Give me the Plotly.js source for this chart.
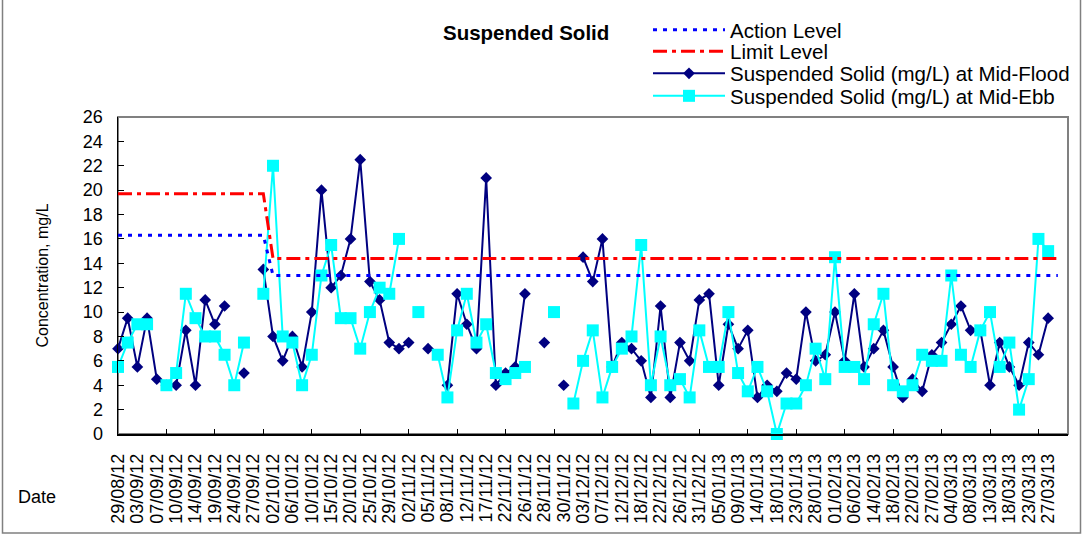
<!DOCTYPE html>
<html>
<head>
<meta charset="utf-8">
<script src="https://cdn.plot.ly/plotly-3.0.1.min.js"></script>
<style>html,body{margin:0;padding:0;background:#fff;}#chart{width:1083px;height:535px;}</style>
</head>
<body>
<div id="chart"></div>
<script>
// Tick labels: one every second sampling position (positions 0,2,...,96)
const dateLabels = ["29/08/12","03/09/12","07/09/12","10/09/12","14/09/12","19/09/12","24/09/12","27/09/12",
"02/10/12","06/10/12","10/10/12","15/10/12","20/10/12","25/10/12","29/10/12","02/11/12","05/11/12","08/11/12",
"12/11/12","17/11/12","22/11/12","26/11/12","28/11/12","30/11/12","03/12/12","07/12/12","12/12/12","18/12/12",
"22/12/12","26/12/12","31/12/12","05/01/13","09/01/13","14/01/13","18/01/13","23/01/13","28/01/13","01/02/13",
"06/02/13","14/02/13","18/02/13","22/02/13","27/02/13","04/03/13","08/03/13","13/03/13","18/03/13","23/03/13","27/03/13"];
const labelPositions = [0,2,4,6,8,10,12,14,16,18,20,22,24,26,28,30,32,34,36,38,40,42,44,46,48,
50,52,54,56,58,60,62,64,66,68,70,72,74,76,78,80,82,84,86,88,90,92,94,96];

// Sampling positions 0..96
const samplePositions = [0,1,2,3,4,5,6,7,8,9,10,11,12,13,14,15,16,17,18,19,20,21,22,23,24,25,26,27,28,29,
30,31,32,33,34,35,36,37,38,39,40,41,42,43,44,45,46,47,48,49,50,51,52,53,54,55,56,57,58,59,
60,61,62,63,64,65,66,67,68,69,70,71,72,73,74,75,76,77,78,79,80,81,82,83,84,85,86,87,88,89,
90,91,92,93,94,95,96];

// Suspended Solid (mg/L) at Mid-Flood
const midFlood = [7,9.5,5.5,9.5,4.5,4,4,8.5,4,11,9,10.5,null,5,null,13.5,8,6,8,5.5,
10,20,12,13,16,22.5,12.5,11,7.5,7,7.5,null,7,null,4,11.5,9,7,21,4,
5,5.5,11.5,null,7.5,null,4,null,14.5,12.5,16,5.5,7.5,7,6,3,10.5,3,7.5,6,
11,11.5,4,9,7,8.5,3,4,3.5,5,4.5,10,6,6.5,10,6,11.5,5.5,7,8.5,
5.5,3,4.5,3.5,6.5,7.5,9,10.5,8.5,8.5,4,7.5,5.5,4,7.5,6.5,9.5];

// Suspended Solid (mg/L) at Mid-Ebb
const midEbb = [5.5,7.5,9,9,null,4,5,11.5,9.5,8,8,6.5,4,7.5,null,11.5,22,8,7.5,4,
6.5,13,15.5,9.5,9.5,7,10,12,11.5,16,null,10,null,6.5,3,8.5,11.5,7.5,9,5,
4.5,5,5.5,null,null,10,null,2.5,6,8.5,3,5.5,7,8,15.5,4,8,4,4.5,3,
8.5,5.5,5.5,10,5,3.5,5.5,3.5,0,2.5,2.5,4,7,4.5,14.5,5.5,5.5,4.5,9,11.5,
4,3.5,4,6.5,6,6,13,6.5,5.5,8.5,10,5.5,7.5,2,4.5,16,15];

// Action / Limit levels (level changes between positions 15 and 16)
const levelPositions = [0,15,16,97];
const actionLevel = [16.3,16.3,13,13];
const limitLevel = [19.7,19.7,14.4,14.4];

const FONT = "Arial, 'Liberation Sans', sans-serif";

const traces = [
  {x: levelPositions, y: actionLevel, name: "Action Level", mode: "lines", xaxis: "x2", legend: "legend",
   line: {color: "#0000FF", width: 3, dash: "4px,6px"}, cliponaxis: false},
  {x: levelPositions, y: limitLevel, name: "Limit Level", mode: "lines", xaxis: "x2", legend: "legend2",
   line: {color: "#FF0000", width: 3, dash: "14px,5px,4px,5px"}, cliponaxis: false},
  {x: samplePositions, y: midFlood, name: "Suspended Solid (mg/L) at Mid-Flood", mode: "lines+markers", legend: "legend3",
   line: {color: "#000080", width: 2}, marker: {symbol: "diamond", size: 9, color: "#000080"},
   connectgaps: false, cliponaxis: false},
  {x: samplePositions, y: midEbb, name: "Suspended Solid (mg/L) at Mid-Ebb", mode: "lines+markers", legend: "legend4",
   line: {color: "#00FFFF", width: 2}, marker: {symbol: "square", size: 12, color: "#00FFFF"},
   connectgaps: false, cliponaxis: false}
];

function legendAt(rowY) {
  return {x: (648-118)/950, xanchor: "left", y: (434-rowY)/317, yanchor: "middle",
          bgcolor: "rgba(0,0,0,0)", borderwidth: 0, itemwidth: 72,
          font: {family: FONT, size: 20.5, color: "#000"}};
}

const xr = [0, 98.05];
const layout = {
  width: 1083, height: 535,
  margin: {l: 118, r: 15, t: 117, b: 101, autoexpand: false},
  paper_bgcolor: "#fff", plot_bgcolor: "#fff",
  font: {family: FONT, color: "#000", size: 16},
  showlegend: true,
  title: {text: "<b>Suspended Solid</b>", font: {family: FONT, size: 20.5, color: "#000"},
          x: 443/1083, xanchor: "left", xref: "container", y: 1 - 33/535, yanchor: "middle", yref: "container"},
  legend: legendAt(30),
  legend2: legendAt(51.5),
  legend3: legendAt(73.5),
  legend4: legendAt(96),
  xaxis: {type: "linear", range: xr, showgrid: false, zeroline: false, automargin: false,
          showline: true, linecolor: "#000", linewidth: 1.5,
          tickmode: "array", tickvals: labelPositions, ticktext: dateLabels,
          ticks: "", tickangle: -90, ticklabelstandoff: 11,
          tickfont: {family: FONT, size: 18, color: "#000"}},
  xaxis2: {type: "linear", range: xr, overlaying: "x", anchor: "y", showgrid: false, zeroline: false,
          showline: false, tickmode: "linear", tick0: 0, dtick: 5, ticks: "inside", ticklen: 5,
          tickcolor: "#000", showticklabels: false},
  yaxis: {range: [0, 26], dtick: 2, tick0: 0, showgrid: false, zeroline: false, automargin: false,
          showline: true, linecolor: "#000", linewidth: 1.5,
          ticks: "inside", ticklen: 6, tickcolor: "#000", ticklabelstandoff: 10,
          tickfont: {family: FONT, size: 18, color: "#000"},
          title: {text: "Concentration, mg/L", font: {family: FONT, size: 16, color: "#000"}, standoff: 30}},
  annotations: [
    {text: "Date", xref: "paper", yref: "paper", x: (37-118)/950, y: (434-497)/317,
     showarrow: false, xanchor: "center", yanchor: "middle", font: {family: FONT, size: 18, color: "#000"}}
  ],
  shapes: [
    {type: "rect", xref: "paper", yref: "paper", x0: 0, x1: 1, y0: 0, y1: 1,
     line: {color: "#808080", width: 2}, layer: "below"},
    {type: "rect", xref: "paper", yref: "paper", x0: (2.5-118)/950, x1: (1080.5-118)/950,
     y0: (434-533)/317, y1: 1.5, line: {color: "#808080", width: 1.5}, layer: "below"}
  ]
};

Plotly.newPlot("chart", traces, layout, {displayModeBar: false, staticPlot: true});
</script>
</body>
</html>
